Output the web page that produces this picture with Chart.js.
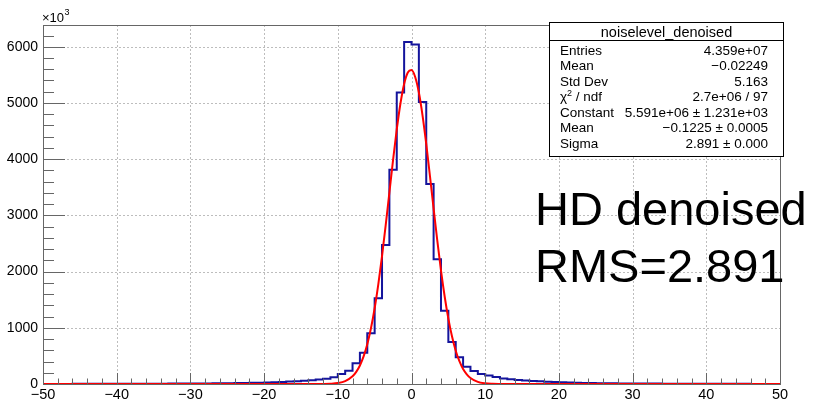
<!DOCTYPE html>
<html><head><meta charset="utf-8">
<script src="https://cdn.jsdelivr.net/npm/chart.js@4.4.1/dist/chart.umd.min.js"></script>
<style>html,body{margin:0;padding:0;background:#fff;}#wrap{width:816px;height:401px;}</style>
</head><body><div id="wrap"><canvas id="c" width="816" height="401"></canvas></div>
<script>
// ---- data (units of 10^3 entries) ----
const binLowEdge = -50;
const binWidth = 1;
const counts = [
  2,2,2,2,3,3,3,3,3,4, 4,4,5,5,5,6,6,7,7,8, 9,10,11,12,13,14,16,          // -50 .. -24
  18,21,24,28,32,37,43,50,58,68,80,95,119,178,237,368,557,902,1525,2475,3810,5186,6083, // -23 .. -1
  6040,5015,3560,2220,1305,748,475,308,231,178,150,125,100,85,72,63,55,48,42,36,31,26,22,18, // 0 .. 23
  16,14,13,12,11,10,9,8,7,7,6,6,5,5,5,4,4,4,3,3,3,3,2,2,2,2           // 24 .. 49
];
const fitX = [-50,-13,-12,-11,-10,-9,-8,-7.5,-7,-6.5,-6,-5.5,-5,-4.5,-4,-3.5,-3,-2.5,-2,-1.5,-1,-0.5,0,0.5,1,1.5,2,2.5,3,3.5,4,4.5,5,5.5,6,6.5,7,7.5,8,9,10,11,12,13,50];
const fitY = [0,0.3,1.2,4.7,16,50,136,215,330,491,708,991,1347,1778,2274,2826,3407,3987,4528,4991,5339,5543,5586,5463,5185,4776,4270,3705,3120,2550,2022,1557,1163,844,593,405,268,173,108,38,12,3.4,0.8,0.2,0];
const xTicks = [-50,-40,-30,-20,-10,0,10,20,30,40,50];
const yTicks = [0,1000,2000,3000,4000,5000,6000];
const yMax = 6387;
const statsTitle = 'noiselevel_denoised';
const statsNames = ['Entries','Mean','Std Dev','χ2 / ndf','Constant','Mean','Sigma'];
const statsValues = ['4.359e+07','\u22120.02249','5.163','2.7e+06 / 97','5.591e+06 \u00b1 1.231e+03','\u22120.1225 \u00b1 0.0005','2.891 \u00b1 0.000'];
const annotationLines = ['HD denoised','RMS=2.891'];
const axisMultiplier = ['\u00d710','3'];

// ---- build ----
const histPts = counts.map((v,i)=>({x: binLowEdge + i*binWidth, y: v}));
histPts.push({x: binLowEdge + counts.length*binWidth, y: counts[counts.length-1]});
const fitPts = fitX.map((x,i)=>({x, y: fitY[i]}));
const FONT = "'Liberation Sans', Arial, Helvetica, sans-serif";
const minus = v => (v < 0 ? '\u2212' + (-v) : String(v));

const rootPlugin = {
  id: 'rootStyle',
  beforeDatasetsDraw(chart) {
    const {ctx, chartArea: a, scales: {x, y}} = chart;
    ctx.save();
    ctx.strokeStyle = '#bdbdbd'; ctx.lineWidth = 1; ctx.setLineDash([2, 2]);
    xTicks.forEach(v => { const p = Math.round(x.getPixelForValue(v)) + 0.5;
      ctx.beginPath(); ctx.moveTo(p, a.top); ctx.lineTo(p, a.bottom); ctx.stroke(); });
    yTicks.forEach(v => { const p = Math.round(y.getPixelForValue(v)) + 0.5;
      ctx.beginPath(); ctx.moveTo(a.left, p); ctx.lineTo(a.right, p); ctx.stroke(); });
    ctx.restore();
  },
  afterDatasetsDraw(chart) {
    const {ctx, chartArea: a, scales: {x, y}} = chart;
    ctx.save();
    // frame
    ctx.strokeStyle = '#666'; ctx.lineWidth = 1;
    ctx.strokeRect(Math.round(a.left)+0.5, Math.round(a.top)+0.5, Math.round(a.right-a.left), Math.round(a.bottom-a.top));
    // ticks (inward)
    ctx.beginPath();
    for (let v = 0; v <= yMax; v += 200) {
      const p = Math.round(y.getPixelForValue(v)) + 0.5;
      const len = (v % 1000 === 0) ? 22 : 11;
      ctx.moveTo(a.left, p); ctx.lineTo(a.left + len, p);
    }
    for (let v = -50; v <= 50; v += 2) {
      const p = Math.round(x.getPixelForValue(v)) + 0.5;
      const len = (v % 10 === 0) ? 11 : 5.5;
      ctx.moveTo(p, a.bottom); ctx.lineTo(p, a.bottom - len);
    }
    ctx.stroke();
    // x10^3
    ctx.fillStyle = '#000';
    ctx.textBaseline = 'alphabetic'; ctx.textAlign = 'left';
    ctx.font = '13px ' + FONT;
    ctx.fillText(axisMultiplier[0], 42, 22);
    const w = ctx.measureText(axisMultiplier[0]).width;
    ctx.font = '9px ' + FONT;
    ctx.fillText(axisMultiplier[1], 42 + w + 0.5, 15);
    // stats box
    const bx = 549.5, by = 22.5, bw = 234, bh = 134;
    ctx.fillStyle = '#fff'; ctx.fillRect(bx, by, bw, bh);
    ctx.strokeStyle = '#000'; ctx.lineWidth = 1; ctx.strokeRect(bx, by, bw, bh);
    ctx.beginPath(); ctx.moveTo(bx, 40.5); ctx.lineTo(bx + bw, 40.5); ctx.stroke();
    ctx.fillStyle = '#000';
    ctx.font = '14.5px ' + FONT; ctx.textAlign = 'center';
    ctx.fillText(statsTitle, bx + bw/2, 37);
    const rowY = [54.5, 70, 85.5, 101, 116.5, 132, 147.5];
    statsNames.forEach((n, i) => {
      ctx.textAlign = 'left'; ctx.font = '13.5px ' + FONT;
      if (n.startsWith('χ2')) {
        ctx.fillText('χ', 560, rowY[i]);
        const cw = ctx.measureText('χ').width;
        ctx.font = '9px ' + FONT; ctx.fillText('2', 560 + cw, rowY[i] - 5);
        const sw = ctx.measureText('2').width;
        ctx.font = '13.5px ' + FONT; ctx.fillText(n.slice(2), 560 + cw + sw, rowY[i]);
      } else {
        ctx.fillText(n, 560, rowY[i]);
      }
      ctx.textAlign = 'right';
      ctx.fillText(statsValues[i], 768, rowY[i]);
    });
    // annotation
    ctx.textAlign = 'left'; ctx.font = '47px ' + FONT; ctx.fillStyle = '#000';
    ctx.fillText(annotationLines[0], 535, 225);
    ctx.fillText(annotationLines[1], 535, 281.5);
    ctx.restore();
  }
};

new Chart(document.getElementById('c'), {
  type: 'line',
  data: { datasets: [
    { label: 'fit', data: fitPts, borderColor: '#ff0000', borderWidth: 2, pointRadius: 0,
      cubicInterpolationMode: 'monotone', fill: false, order: 0 },
    { label: 'noiselevel_denoised', data: histPts, borderColor: '#14149c', borderWidth: 2, pointRadius: 0,
      stepped: 'before', fill: false, order: 1 }
  ]},
  options: {
    responsive: false, animation: false, devicePixelRatio: 1,
    layout: { padding: { top: 25, right: 36, left: 0, bottom: 0 } },
    plugins: { legend: { display: false }, tooltip: { enabled: false } },
    scales: {
      x: { type: 'linear', min: -50, max: 50,
        grid: { display: false, drawTicks: false }, border: { display: false },
        afterBuildTicks: s => { s.ticks = xTicks.map(v => ({ value: v })); },
        ticks: { autoSkip: false, maxRotation: 0, padding: 2, color: '#000',
          font: { family: FONT, size: 14.5 }, callback: v => minus(v) },
        afterFit: s => { s.height = 17; } },
      y: { type: 'linear', min: 0, max: yMax,
        grid: { display: false, drawTicks: false }, border: { display: false },
        afterBuildTicks: s => { s.ticks = yTicks.map(v => ({ value: v })); },
        ticks: { padding: 5, color: '#000',
          font: { family: FONT, size: 14 }, callback: v => String(v) },
        afterFit: s => { s.width = 43; } }
    }
  },
  plugins: [rootPlugin]
});
</script></body></html>
